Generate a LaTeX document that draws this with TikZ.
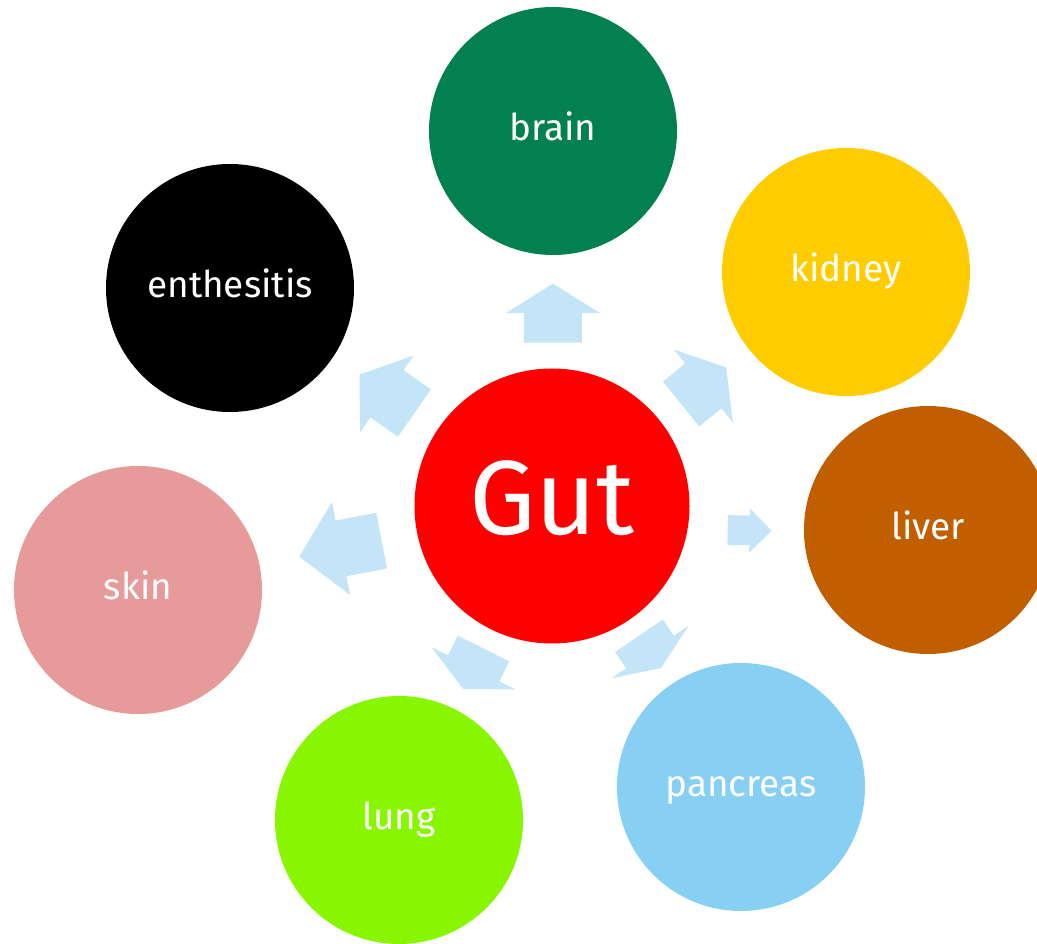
\documentclass[tikz,border=0pt]{standalone}
\usepackage{fontspec}
\setmainfont{Fira Sans}
\usetikzlibrary{shapes.arrows}
\definecolor{cgut}{RGB}{255,0,0}
\definecolor{cbrain}{RGB}{2,128,79}
\definecolor{ckidney}{RGB}{255,204,0}
\definecolor{cliver}{RGB}{192,94,0}
\definecolor{cpancreas}{RGB}{135,207,243}
\definecolor{clung}{RGB}{136,246,0}
\definecolor{cskin}{RGB}{230,155,154}
\definecolor{cseta}{RGB}{196,228,247}
\tikzset{
  org/.style = {circle, fill=#1, text=white, inner sep=0pt, minimum size=49.6mm,
    font=\fontsize{21}{25}\selectfont, text height=16pt, text depth=5pt},
  cen/.style = {circle, fill=cgut, text=white, inner sep=0pt, minimum size=55mm,
    font=\fontsize{60}{72}\selectfont, text height=40pt, text depth=8pt},
  fl/.style = {single arrow, fill=cseta, anchor=tail, inner xsep=0pt,
    inner ysep=5.7mm, single arrow head extend=3.6mm, minimum width=0pt}
}

\begin{document}
\begin{tikzpicture}[x=0.2mm, y=-0.2mm]
  \useasboundingbox (0,0) rectangle (1037,944);
  % circulos
  \node [cen] (gut) at (552,506) {Gut};
  \node [org=cbrain] (brain) at (553,131) {brain};
  \node [org=ckidney] (kidney) at (846,272) {kidney};
  \node [org=cliver] (liver) at (928,530) {liver};
  \node [org=cpancreas] (pancreas) at (741,787) {pancreas};
  \node [org=clung] (lung) at (399,820) {lung};
  \node [org=cskin] (skin) at (138,590) {skin};
  \node [org=black] (enth) at (230,288) {enthesitis};
  % setas
  \node [fl, rotate=90, minimum height=11.8mm, single arrow tip angle=116] (sbrain) at (553,343) {};
  \node [fl, rotate=39, minimum height=11.6mm, single arrow tip angle=116] (skidney) at (680.8,404.2) {};
  \node [fl, rotate=-1, minimum height=8.8mm, inner ysep=2.9mm, single arrow head extend=1.45mm,
    single arrow tip angle=90] (sliver) at (727.3,530) {};
  \node [fl, rotate=-55.8, minimum height=7.8mm, single arrow tip angle=135] (spancreas) at (638.8,635.5) {};
  \node [fl, rotate=243.4, minimum height=9.1mm, single arrow tip angle=127] (slung) at (483.7,648.2) {};
  \node [fl, rotate=191, minimum height=16.8mm, inner ysep=5.6mm, single arrow head extend=3.8mm,
    single arrow tip angle=96] (sskin) at (382,540.5) {};
  \node [fl, rotate=145, minimum height=13.4mm, single arrow tip angle=109] (senth) at (414.7,413.3) {};
\end{tikzpicture}
\end{document}
